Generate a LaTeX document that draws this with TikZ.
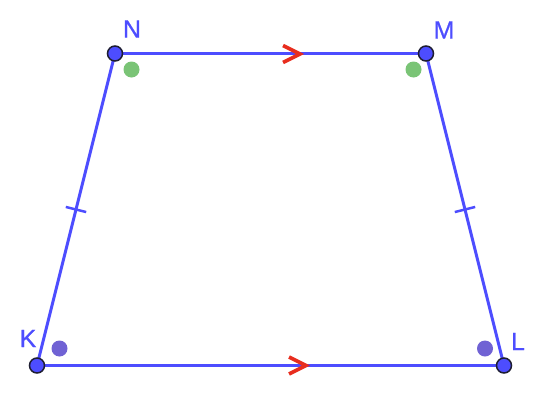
\documentclass[tikz,border=0pt]{standalone}
\usepackage{fontspec}
\setmainfont{Liberation Sans}
\newfontfamily\lblfont[FakeBold=0.8]{Liberation Sans}
\usetikzlibrary{calc}
\definecolor{gblue}{RGB}{77,77,255}
\definecolor{gdark}{RGB}{30,30,50}
\definecolor{ggreen}{RGB}{122,196,118}
\definecolor{gpurple}{RGB}{112,98,212}
\definecolor{gred}{RGB}{232,45,30}
\tikzset{
  side/.style={draw=gblue, line width=3pt},
  vtx/.style={circle, fill=gblue, draw=gdark, line width=1.5pt, minimum size=15pt, inner sep=0pt},
  lbl/.style={text=gblue, font=\lblfont\fontsize{25}{27}\selectfont, inner sep=0pt},
  angdot/.style={circle, inner sep=0pt, minimum size=16pt},
  chev/.style={draw=gred, line width=3.6pt, line join=miter},
  tick/.style={draw=gblue, line width=2.5pt},
}
\begin{document}
\begin{tikzpicture}[x=1pt,y=-1pt]
\useasboundingbox (0,0) rectangle (554,402);
\coordinate (N) at (115,53.5);
\coordinate (M) at (426,53.5);
\coordinate (K) at (37,365.5);
\coordinate (L) at (504,365.5);
\draw[side] (N) -- (M);
\draw[side] (M) -- (L);
\draw[side] (L) -- (K);
\draw[side] (K) -- (N);
% parallel marks
\coordinate (T1) at (300,54);
\coordinate (T2) at (306,365.5);
\draw[chev] ([xshift=-17pt,yshift=-8.5pt]T1) -- (T1) -- ([xshift=-17pt,yshift=8.5pt]T1);
\draw[chev] ([xshift=-17pt,yshift=-8.5pt]T2) -- (T2) -- ([xshift=-17pt,yshift=8.5pt]T2);
% equal-length ticks
\coordinate (mKN) at ($(K)!0.5!(N)$);
\coordinate (mLM) at ($(L)!0.5!(M)$);
\draw[tick] ($(mKN)!10.5pt!90:(N)$) -- ($(mKN)!10.5pt!-90:(N)$);
\draw[tick] ($(mLM)!10.5pt!90:(M)$) -- ($(mLM)!10.5pt!-90:(M)$);
% angle dots
\node[angdot, fill=ggreen] (aN) at (131.5,69.5) {};
\node[angdot, fill=ggreen] (aM) at (413.5,69.5) {};
\node[angdot, fill=gpurple] (aK) at (59.5,348.5) {};
\node[angdot, fill=gpurple] (aL) at (485,348.5) {};
% vertices
\node[vtx] (vN) at (N) {};
\node[vtx] (vM) at (M) {};
\node[vtx] (vK) at (K) {};
\node[vtx] (vL) at (L) {};
% labels
\node[lbl] (lN) at (132,29) {N};
\node[lbl] (lM) at (444,30) {M};
\node[lbl] (lK) at (28,338.5) {K};
\node[lbl] (lL) at (518,341.5) {L};
\end{tikzpicture}
\end{document}
